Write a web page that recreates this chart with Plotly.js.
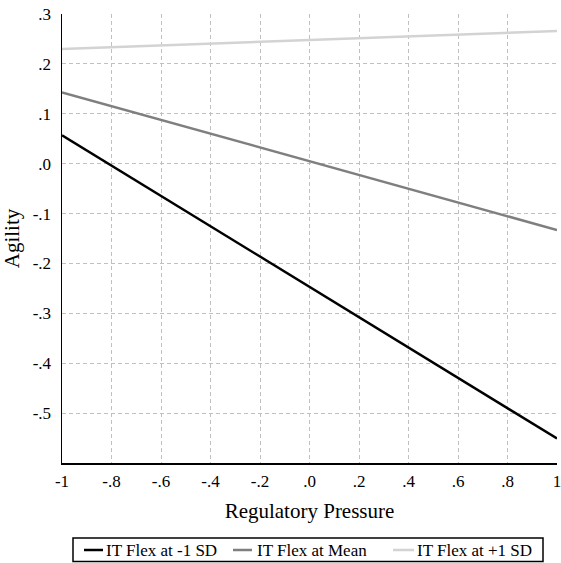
<!DOCTYPE html>
<html>
<head>
<meta charset="utf-8">
<script src="https://cdn.plot.ly/plotly-3.0.1.min.js"></script>
<style>html,body{margin:0;padding:0;background:#fff;}#chart{width:561px;height:563px;}</style>
</head>
<body>
<div id="chart"></div>
<script>
const xEnds = [-1, 1];
const lowSD = [0.057, -0.551];
const meanSD = [0.143, -0.133];
const highSD = [0.230, 0.266];
const seriesNames = ["IT Flex at -1 SD", "IT Flex at Mean", "IT Flex at +1 SD"];
const seriesColors = ["#000000", "#7f7f7f", "#d3d3d3"];
const xTickVals = [-1, -0.8, -0.6, -0.4, -0.2, 0, 0.2, 0.4, 0.6, 0.8, 1];
const xTickText = ["-1", "-.8", "-.6", "-.4", "-.2", ".0", ".2", ".4", ".6", ".8", "1"];
const yTickVals = [-0.5, -0.4, -0.3, -0.2, -0.1, 0, 0.1, 0.2, 0.3];
const yTickText = ["-.5", "-.4", "-.3", "-.2", "-.1", ".0", ".1", ".2", ".3"];

const font = "'Liberation Serif', 'Times New Roman', serif";
const seriesY = [lowSD, meanSD, highSD];
const traces = seriesY.map((ys, i) => ({
  x: xEnds, y: ys, name: seriesNames[i], mode: "lines",
  line: {color: seriesColors[i], width: 2.5}
}));

// margins / pixel-to-paper helpers for the legend box
const M = {l: 62, r: 4, t: 14, b: 100};
const W = 561, H = 563;
const pw = W - M.l - M.r, ph = H - M.t - M.b;
const px = p => (p - M.l) / pw;
const py = p => (H - M.b - p) / ph;

const legLines = [[84, 103], [233, 252], [393, 414]];
const legText = [105, 256, 416];
const legY = 550;
const shapes = [
  {type: "rect", xref: "paper", yref: "paper", x0: px(73), x1: px(543), y0: py(538), y1: py(561.5),
   line: {color: "#000", width: 1.5}, fillcolor: "rgba(0,0,0,0)"}
];
const annotations = [];
seriesNames.forEach((n, i) => {
  shapes.push({type: "line", xref: "paper", yref: "paper", x0: px(legLines[i][0]), x1: px(legLines[i][1]),
               y0: py(legY), y1: py(legY), line: {color: seriesColors[i], width: 2.5}});
  annotations.push({xref: "paper", yref: "paper", x: px(legText[i]), y: py(legY), xanchor: "left", yanchor: "middle",
                    text: n, showarrow: false, borderpad: 0, font: {family: font, size: 17, color: "#000"}});
});

const layout = {
  width: W, height: H,
  margin: {l: M.l, r: M.r, t: M.t, b: M.b, autoexpand: false},
  paper_bgcolor: "#fff", plot_bgcolor: "#fff",
  font: {family: font, size: 17, color: "#000"},
  showlegend: false,
  shapes: shapes,
  annotations: annotations,
  xaxis: {range: [-1, 1], tickvals: xTickVals, ticktext: xTickText,
          showline: true, linecolor: "#000", linewidth: 1.5, mirror: false,
          showgrid: true, gridcolor: "#c0c0c0", griddash: "4px,3px", gridwidth: 1,
          zeroline: false, ticks: "outside", ticklen: 2, tickcolor: "rgba(0,0,0,0)",
          ticklabeloverflow: "allow",
          title: {text: "Regulatory Pressure", font: {family: font, size: 21}, standoff: 13},
          automargin: false, fixedrange: true},
  yaxis: {range: [-0.6, 0.3], tickvals: yTickVals, ticktext: yTickText,
          showline: true, linecolor: "#000", linewidth: 1.5,
          showgrid: true, gridcolor: "#c0c0c0", griddash: "4px,3px", gridwidth: 1,
          zeroline: false, ticks: "outside", ticklen: 6, tickcolor: "rgba(0,0,0,0)",
          ticklabeloverflow: "allow",
          title: {text: "Agility", font: {family: font, size: 21}, standoff: 10},
          automargin: false, fixedrange: true}
};
Plotly.newPlot("chart", traces, layout, {displayModeBar: false, staticPlot: true});
</script>
</body>
</html>
